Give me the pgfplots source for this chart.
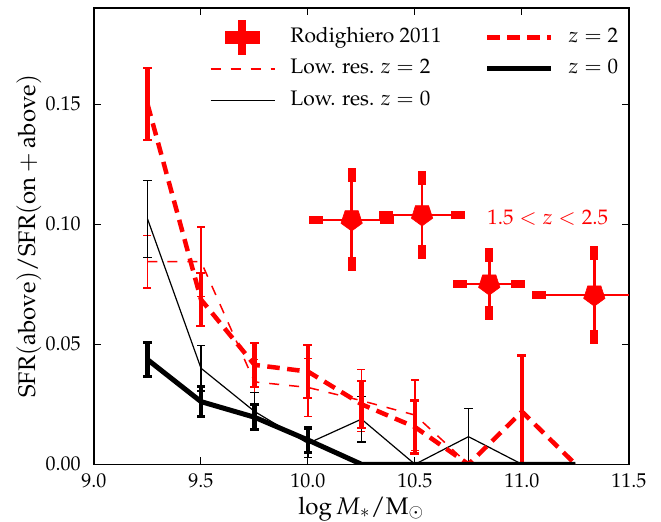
\documentclass[border=0pt]{standalone}
\usepackage[T1]{fontenc}
\usepackage{mathpazo}
\usepackage{pgfplots}
\usepackage{pgfplotstable}
\pgfplotsset{compat=1.18}

% cap marks (y-error marks are rotated by 90 degrees by pgfplots)
\pgfdeclareplotmark{rcap}{\pgfpathrectangle{\pgfpoint{-3.5pt}{-2pt}}{\pgfpoint{7pt}{4pt}}\pgfusepathqfill}
\pgfdeclareplotmark{capthinr}{\pgfpathrectangle{\pgfpoint{-0.3pt}{-2pt}}{\pgfpoint{0.6pt}{4pt}}\pgfusepathqfill}
\pgfdeclareplotmark{capthink}{\pgfpathrectangle{\pgfpoint{-0.3pt}{-2.2pt}}{\pgfpoint{0.6pt}{4.4pt}}\pgfusepathqfill}
\pgfdeclareplotmark{capthickr}{\pgfpathrectangle{\pgfpoint{-0.6pt}{-2.25pt}}{\pgfpoint{1.2pt}{4.5pt}}\pgfusepathqfill}
\pgfdeclareplotmark{capthickk}{\pgfpathrectangle{\pgfpoint{-0.75pt}{-2.1pt}}{\pgfpoint{1.5pt}{4.2pt}}\pgfusepathqfill}

% high resolution z=2
\pgfplotstableread{
x y
9.25 0.1500
9.50 0.0686
9.75 0.0414
10.00 0.0386
10.25 0.0250
10.50 0.0155
10.75 0.0000
11.00 0.0219
11.25 0.0000
}\hizTwo
\pgfplotstableread{
x y ey
9.25 0.1500 0.0150
9.50 0.0686 0.0110
9.75 0.0414 0.0091
10.00 0.0386 0.0110
10.25 0.0250 0.0098
10.50 0.0155 0.0110
11.00 0.0219 0.0234
}\hizTwoErr
% low resolution z=2
\pgfplotstableread{
x y
9.25 0.0844
9.50 0.0844
9.75 0.0343
10.00 0.0320
10.25 0.0265
10.50 0.0205
10.75 0.0000
11.00 0.0000
11.25 0.0000
}\lozTwo
\pgfplotstableread{
x y ey
9.25 0.0844 0.0110
9.50 0.0844 0.0144
9.75 0.0343 0.0094
10.00 0.0320 0.0122
10.25 0.0265 0.0130
10.50 0.0205 0.0146
}\lozTwoErr
% high resolution z=0
\pgfplotstableread{
x y
9.25 0.0436
9.50 0.0261
9.75 0.0196
10.00 0.0101
10.25 0.0000
10.50 0.0000
10.75 0.0000
11.00 0.0000
11.25 0.0000
}\hizZero
\pgfplotstableread{
x y ey
9.25 0.0436 0.0071
9.50 0.0261 0.0063
9.75 0.0196 0.0051
10.00 0.0101 0.0052
}\hizZeroErr
% low resolution z=0
\pgfplotstableread{
x y
9.25 0.1022
9.50 0.0400
9.75 0.0220
10.00 0.0087
10.25 0.0188
10.50 0.0000
10.75 0.0115
11.00 0.0000
11.25 0.0000
}\lozZero
\pgfplotstableread{
x y ey
9.25 0.1022 0.0161
9.50 0.0400 0.0095
9.75 0.0220 0.0078
10.00 0.0087 0.0060
10.25 0.0188 0.0095
10.75 0.0115 0.0118
}\lozZeroErr
% Rodighiero 2011
\pgfplotstableread{
x y ex ey
10.204 0.1018 0.167 0.0186
10.533 0.1039 0.167 0.0155
10.847 0.0751 0.135 0.0120
11.338 0.0705 0.258 0.0176
}\rodi

\begin{document}
\begin{tikzpicture}
\path[use as bounding box] (-47pt,-28.85pt) rectangle (283.5pt,232.15pt);
\begin{axis}[
  at={(0,0)}, anchor=south west,
  scale only axis, width=267.5pt, height=228.15pt,
  xmin=9, xmax=11.5, ymin=0, ymax=0.19,
  xtick={9,9.5,10,10.5,11,11.5},
  ytick={0,0.05,0.1,0.15},
  scaled y ticks=false, scaled x ticks=false,
  xticklabel style={/pgf/number format/fixed, /pgf/number format/fixed zerofill, /pgf/number format/precision=1, yshift=-1.2pt},
  yticklabel style={/pgf/number format/fixed, /pgf/number format/fixed zerofill, /pgf/number format/precision=2, xshift=-3.2pt},
  tick label style={font=\fontsize{10}{12}\selectfont},
  tick align=inside, xtick pos=both, ytick pos=both,
  major tick length=3.5pt,
  every tick/.style={black, line width=0.5pt},
  axis line style={line width=0.65pt},
  xlabel={$\log M_{*}/\mathrm{M}_{\odot}$},
  ylabel={$\mathrm{SFR(above)/SFR(on+above)}$},
  every axis x label/.style={at={(axis description cs:0.5,-0.109)}, anchor=base, font=\fontsize{12}{14}\selectfont},
  every axis y label/.style={at={(axis description cs:-0.1215,0.5)}, rotate=90, anchor=center, font=\fontsize{12}{14}\selectfont},
  legend image code/.code={\draw[#1] (0pt,0pt) -- (32pt,0pt);},
  legend columns=2,
  legend cell align=left,
  legend style={draw=none, fill=none, inner sep=0pt, outer sep=0pt,
    at={(axis description cs:0.2168,0.9555)}, anchor=north west,
    font=\fontsize{10.5}{12}\selectfont,
    row sep=6.75pt,
    nodes={inner sep=0pt, text height=7pt, text depth=2pt, anchor=west},
    /tikz/every odd column/.append style={column sep=7.5pt},
    /tikz/every even column/.append style={column sep=21.5pt}},
]
% low resolution z=2
\addplot[forget plot, red, no markers, line width=0.75pt, dash pattern=on 5pt off 5pt] table[x=x,y=y]{\lozTwo};
\addplot[forget plot, red, draw=none, mark=none,
  error bars/.cd, y dir=both, y explicit,
  error bar style={draw=red, line width=0.6pt, solid},
  error mark=capthinr,
  error mark options={fill=red, draw=none}]
  table[x=x,y=y,y error=ey]{\lozTwoErr};
% low resolution z=0
\addplot[forget plot, black, no markers, line width=0.6pt] table[x=x,y=y]{\lozZero};
\addplot[forget plot, black, draw=none, mark=none,
  error bars/.cd, y dir=both, y explicit,
  error bar style={draw=black, line width=0.6pt, solid},
  error mark=capthink,
  error mark options={fill=black, draw=none}]
  table[x=x,y=y,y error=ey]{\lozZeroErr};
% high resolution z=2
\addplot[forget plot, red, no markers, line width=2.25pt, dash pattern=on 6.25pt off 3.75pt] table[x=x,y=y]{\hizTwo};
\addplot[forget plot, red, draw=none, mark=none,
  error bars/.cd, y dir=both, y explicit,
  error bar style={draw=red, line width=2.3pt, solid},
  error mark=capthickr,
  error mark options={fill=red, draw=none}]
  table[x=x,y=y,y error=ey]{\hizTwoErr};
% high resolution z=0
\addplot[forget plot, black, no markers, line width=2.5pt] table[x=x,y=y]{\hizZero};
\addplot[forget plot, black, draw=none, mark=none,
  error bars/.cd, y dir=both, y explicit,
  error bar style={draw=black, line width=2.3pt, solid},
  error mark=capthickk,
  error mark options={fill=black, draw=none}]
  table[x=x,y=y,y error=ey]{\hizZeroErr};
% Rodighiero 2011
\addplot[forget plot, red, only marks, mark=pentagon*, mark size=5.6pt,
  mark options={rotate=180, fill=red, draw=red, line width=0.3pt},
  error bars/.cd, x dir=both, x explicit, y dir=both, y explicit,
  error bar style={draw=red, line width=1.25pt, solid},
  error mark=rcap,
  error mark options={fill=red, draw=none}]
  table[x=x,y=y,x error=ex,y error=ey]{\rodi};

\node[red, anchor=base west, font=\fontsize{10.5}{12}\selectfont] at (axis cs:10.805,0.1) {$1.5<z<2.5$};

% legend (row-wise order)
\addlegendimage{legend image code/.code={
   \path[draw=none] (0pt,0pt) -- (32pt,0pt);
   \fill[red, draw=none, overlay] (7pt,-3.25pt) rectangle (24.5pt,3.25pt);
   \fill[red, draw=none, overlay] (13.75pt,-8.75pt) rectangle (17.75pt,8.75pt);}}
\addlegendentry{Rodighiero 2011}
\addlegendimage{red, line width=2.25pt, dash pattern=on 6.25pt off 3.75pt}
\addlegendentry{$z=2$}
\addlegendimage{red, line width=0.75pt, dash pattern=on 5pt off 5pt}
\addlegendentry{Low. res. $z=2$}
\addlegendimage{black, line width=2.5pt}
\addlegendentry{$z=0$}
\addlegendimage{black, line width=0.6pt}
\addlegendentry{Low. res. $z=0$}
\end{axis}
\end{tikzpicture}
\end{document}
